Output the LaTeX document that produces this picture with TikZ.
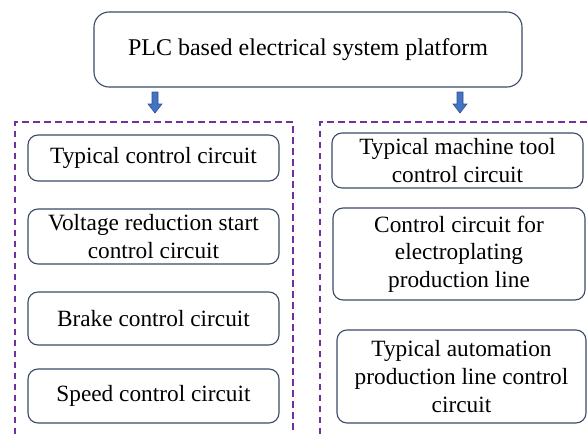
\documentclass[tikz,border=0pt]{standalone}
\usepackage{fontspec}
\setmainfont{Liberation Serif}
\definecolor{boxline}{HTML}{3B4A66}
\definecolor{dashpurple}{HTML}{7030A0}
\definecolor{arrowfill}{HTML}{4472C4}
\definecolor{arrowline}{HTML}{2F528F}
\tikzset{
  rbox/.style={draw=boxline, line width=1.1pt, rounded corners=10pt, fill=white,
    align=center, inner sep=0pt, font=\fontsize{23.3}{27.6}\selectfont},
  group/.style={draw=dashpurple, line width=2.4pt, dash pattern=on 6.5pt off 4.5pt},
  blockarrow/.style={draw=arrowline, fill=arrowfill, line width=0.6pt, line join=miter}
}
\newcommand{\downarrowat}[1]{%
  \path[blockarrow] ([shift={(-3,-10)}]#1) -- ([shift={(3,-10)}]#1) -- ([shift={(3,2)}]#1)
    -- ([shift={(7,2)}]#1) -- ([shift={(0,11)}]#1) -- ([shift={(-7,2)}]#1)
    -- ([shift={(-3,2)}]#1) -- cycle;}
\begin{document}
\begin{tikzpicture}[x=1pt,y=-1pt]
\useasboundingbox (0,0) rectangle (587,434);
\clip (0,0) rectangle (587,434);
% group frames
\draw[group] (15,445) -- (15,122) -- (293,122) -- (293,445);
\draw[group] (320,445) -- (320,122) -- (600,122);
% top node
\node[rbox, rounded corners=15pt, minimum width=428pt, minimum height=75pt,
  font=\fontsize{24}{28.8}\selectfont] (top) at (308,49.5) {PLC based electrical system platform};
% arrows
\coordinate (a1) at (155,102);
\coordinate (a2) at (460,102);
\downarrowat{a1}
\downarrowat{a2}
% left column
\node[rbox, minimum width=251pt, minimum height=46pt] (l1) at (153.5,158) {Typical control circuit};
\node[rbox, minimum width=251pt, minimum height=55pt] (l2) at (153.5,236.5) {Voltage reduction start\\control circuit};
\node[rbox, minimum width=251pt, minimum height=53pt] (l3) at (153.5,318.5) {Brake control circuit};
\node[rbox, minimum width=251pt, minimum height=54pt] (l4) at (153.5,396) {Speed control circuit};
% right column
\node[rbox, minimum width=251pt, minimum height=55pt] (r1) at (457.5,160.5) {Typical machine tool\\control circuit};
\node[rbox, minimum width=252pt, minimum height=92pt] (r2) at (459,254) {Control circuit for\\electroplating\\production line};
\node[rbox, minimum width=249pt, minimum height=93pt] (r3) at (461.5,376.5) {Typical automation\\production line control\\circuit};
\end{tikzpicture}
\end{document}
